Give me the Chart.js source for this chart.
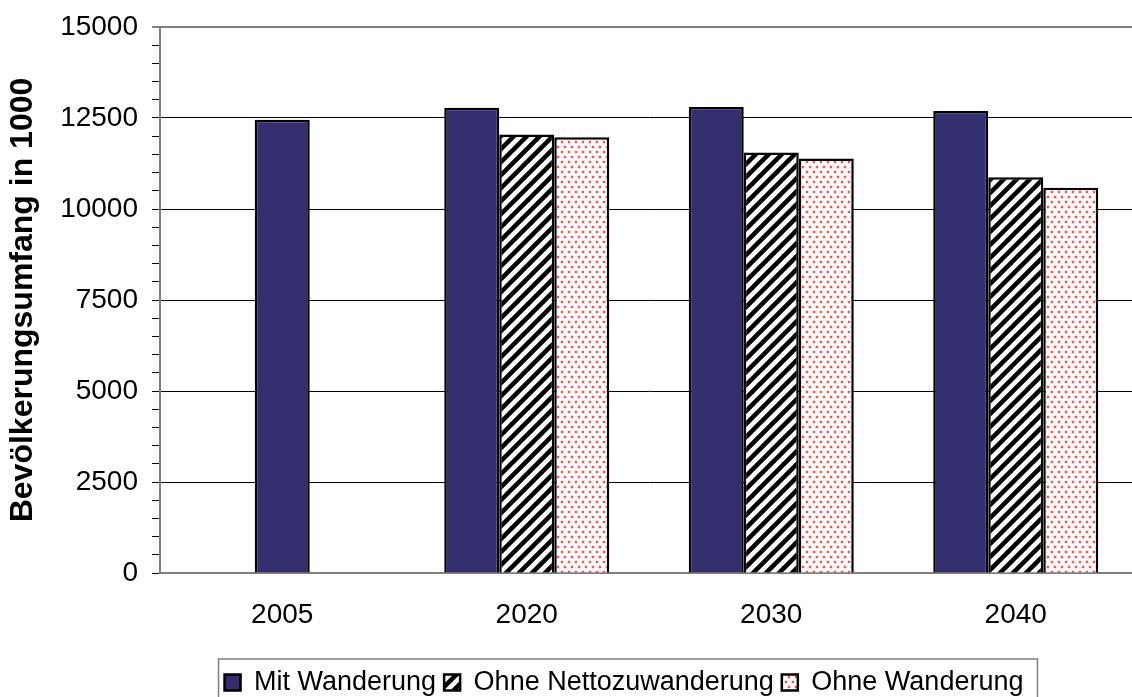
<!DOCTYPE html>
<html>
<head>
<meta charset="utf-8">
<script src="https://cdn.jsdelivr.net/npm/chart.js@4.4.1/dist/chart.umd.min.js"></script>
<style>
  html, body { margin: 0; padding: 0; background: #fff; overflow: hidden; }
  #wrap { width: 1138px; height: 706px; }
</style>
</head>
<body>
<div id="wrap"><canvas id="myChart" width="1138" height="706"></canvas></div>
<script>
'use strict';
//--------------------DATA

// categories (years)
const years = ['2005', '2020', '2030', '2040'];

// series values, population in 1000
const mitWanderung = [12450, 12780, 12800, 12690];
const ohneNettozuwanderung = [null, 12050, 11550, 10870];
const ohneWanderung = [null, 11970, 11390, 10585];

// y axis ticks
const yMin = 0;
const yMax = 15000;
const yMajor = 2500;
const yMinor = 500;

const seriesNames = ['Mit Wanderung', 'Ohne Nettozuwanderung', 'Ohne Wanderung'];
const axisTitle = 'Bevölkerungsumfang in 1000';

//--------------------PATTERNS

// black diagonal stripes on white
function hatchPattern() {
  let s = 13;
  let c = document.createElement('canvas');
  c.width = s;
  c.height = s;
  let g = c.getContext('2d');
  g.fillStyle = '#fff';
  g.fillRect(0, 0, s, s);
  g.strokeStyle = '#000';
  g.lineWidth = 4.5;
  g.beginPath();
  g.moveTo(-s, s); g.lineTo(s, -s);
  g.moveTo(-1, s + 1); g.lineTo(s + 1, -1);
  g.moveTo(0, 2 * s); g.lineTo(2 * s, 0);
  g.stroke();
  return g.createPattern(c, 'repeat');
}

// small pink dots on white
function dotPattern() {
  let c = document.createElement('canvas');
  c.width = 7;
  c.height = 10;
  let g = c.getContext('2d');
  g.fillStyle = '#fff';
  g.fillRect(0, 0, 7, 10);
  g.fillStyle = 'rgba(255, 170, 170, 0.8)';
  g.fillRect(0.5, 0.5, 3, 3);
  g.fillRect(3.5, 5.5, 3, 3);
  g.fillStyle = 'rgb(255, 80, 80)';
  g.fillRect(1, 1, 2, 2);
  g.fillRect(4, 6, 2, 2);
  return g.createPattern(c, 'repeat');
}

//--------------------PLUGINS

// move the legend a bit to the right and draw a grey frame round it
const legendShift = 55;
const legendFrame = {
  id: 'legendFrame',
  afterLayout(chart) {
    chart.legend.left += legendShift;
    chart.legend.right += legendShift;
  },
  afterDraw(chart) {
    let boxes = chart.legend.legendHitBoxes;
    if (!boxes || !boxes.length) return;
    let first = boxes[0];
    let last = boxes[boxes.length - 1];
    let ctx = chart.ctx;
    ctx.save();
    ctx.strokeStyle = '#808080';
    ctx.lineWidth = 1.5;
    ctx.strokeRect(first.left - 6, first.top - 10, last.left + last.width - first.left + 20, 70);
    ctx.restore();
  }
};

//--------------------CHART

const font = 'Liberation Sans, Arial, sans-serif';

const data = {
  labels: years,
  datasets: [
    {
      label: seriesNames[0],
      data: mitWanderung,
      backgroundColor: '#332e6e',
      borderColor: '#000',
      borderWidth: 2.5,
    },
    {
      label: seriesNames[1],
      data: ohneNettozuwanderung,
      backgroundColor: hatchPattern(),
      borderColor: '#000',
      borderWidth: 2.5,
    },
    {
      label: seriesNames[2],
      data: ohneWanderung,
      backgroundColor: dotPattern(),
      borderColor: '#000',
      borderWidth: 2.5,
    },
  ],
};

const config = {
  type: 'bar',
  data: data,
  plugins: [legendFrame],
  options: {
    responsive: false,
    animation: false,
    skipNull: true,
    categoryPercentage: 0.675,
    barPercentage: 1,
    maxBarThickness: 55,
    layout: { padding: { top: 27, left: 0, right: 0, bottom: 0 } },
    plugins: {
      tooltip: { enabled: false },
      legend: {
        position: 'bottom',
        labels: {
          color: '#000',
          font: { family: font, size: 27 },
          boxWidth: 16,
          boxHeight: 16,
          padding: 8,
        },
      },
    },
    scales: {
      x: {
        grid: { display: false },
        border: { display: true, color: '#808080', width: 2 },
        ticks: { color: '#000', padding: 17, font: { family: font, size: 28 } },
        afterFit(scale) {
          let lg = scale.chart.legend;
          scale.height = scale.chart.height - (lg ? lg.height : 0) - 573;
        },
      },
      y: {
        min: yMin,
        max: yMax,
        border: { display: true, color: '#808080', width: 2 },
        grid: {
          color: (c) => {
            let v = c.tick.value;
            if (v === yMax) return '#808080';
            if (v === yMin) return 'rgba(0,0,0,0)';
            return v % yMajor === 0 ? '#000' : 'rgba(0,0,0,0)';
          },
          lineWidth: (c) => (c.tick.value === yMax ? 2 : 1),
          tickColor: '#000',
          tickLength: 8,
          tickWidth: 1,
        },
        ticks: {
          stepSize: yMinor,
          autoSkip: false,
          color: '#000',
          padding: 14,
          font: { family: font, size: 28, lineHeight: 0.9 },
          callback: (v) => (v % yMajor === 0 ? String(v) : ''),
        },
        title: {
          display: true,
          text: axisTitle,
          color: '#000',
          font: { family: font, size: 32, weight: 'bold' },
          padding: { top: 4, bottom: 0 },
        },
        afterFit(scale) {
          scale.width = 160;
        },
      },
    },
  },
};

const myChart = new Chart(document.getElementById('myChart'), config);
</script>
</body>
</html>
